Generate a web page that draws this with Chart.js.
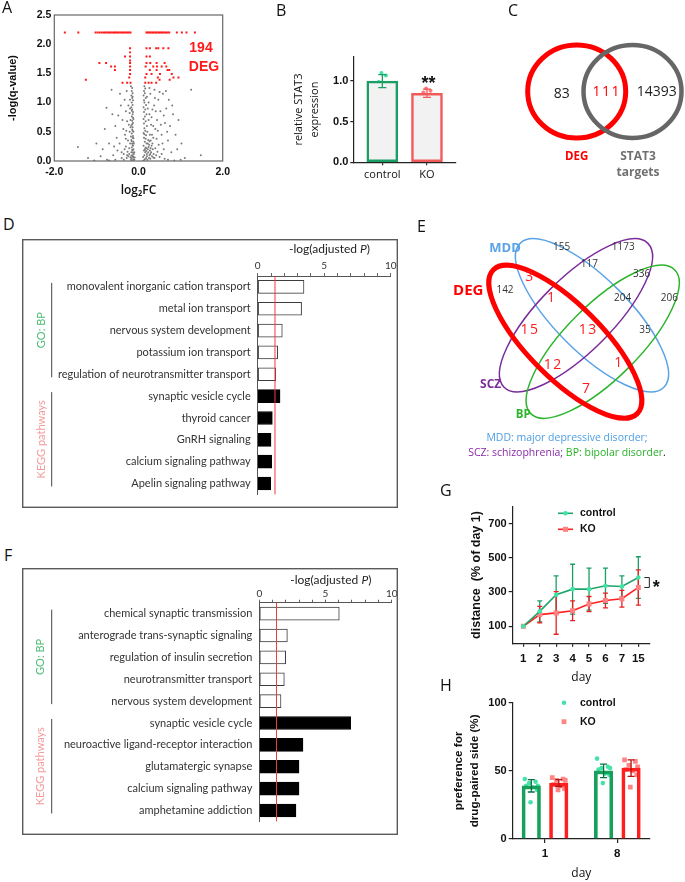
<!DOCTYPE html>
<html lang="en">
<head>
<meta charset="UTF-8">
<meta name="viewport" content="width=device-width, initial-scale=1.0">
<title>STAT3 knockout figure</title>
<script src="https://cdn.jsdelivr.net/npm/chart.js"></script>
<style>
  body { margin: 0; background: #fff; }
  #fig { position: relative; width: 685px; height: 882px; overflow: hidden; font-family: 'Open Sans', sans-serif; color: #111; }
  .box { position: absolute; }
  .p { position: absolute; font-size: 16px; line-height: 16px; }
  .t { position: absolute; white-space: nowrap; line-height: 1; transform: translate(-50%, -50%); }
</style>
</head>
<body>
<div id="fig">
  <div class="box" style="left:0;top:0;width:240px;height:200px"><canvas id="cA"></canvas></div>
  <div class="box" style="left:260px;top:0;width:200px;height:190px"><canvas id="cB"></canvas></div>
  <div class="box" style="left:460px;top:0;width:225px;height:190px"><canvas id="cC"></canvas></div>
  <div class="box" style="left:22px;top:239px;width:376px;height:269px"><canvas id="cD"></canvas></div>
  <div class="box" style="left:420px;top:230px;width:265px;height:240px"><canvas id="cE"></canvas></div>
  <div class="box" style="left:22px;top:568px;width:376px;height:267px"><canvas id="cF"></canvas></div>
  <div class="box" style="left:420px;top:480px;width:265px;height:205px"><canvas id="cG"></canvas></div>
  <div class="box" style="left:420px;top:690px;width:265px;height:192px"><canvas id="cH"></canvas></div>

  <div class="p" style="left:2px;top:-1px">A</div>
  <div class="p" style="left:276px;top:2px">B</div>
  <div class="p" style="left:508px;top:2px">C</div>
  <div class="p" style="left:3px;top:216px">D</div>
  <div class="p" style="left:417px;top:218px">E</div>
  <div class="p" style="left:4px;top:547px">F</div>
  <div class="p" style="left:440px;top:482px">G</div>
  <div class="p" style="left:440px;top:677px">H</div>

  <div id="degA" class="t" style="left:201px;top:47px;font:bold 14px 'Liberation Sans';color:#ff1a1a"></div>
  <div class="t" style="left:204px;top:66px;font:bold 14px 'Liberation Sans';color:#ff1a1a">DEG</div>

  <div class="t" style="left:567px;top:437px;font-size:10.5px;color:#4a9de6">MDD: major depressive disorder;</div>
  <div class="t" style="left:567px;top:452px;font-size:10.5px"><span style="color:#8a2aa8">SCZ: schizophrenia;</span> <span style="color:#27b327">BP: bipolar disorder</span>.</div>
</div>

<script>
// ---------- A: volcano plot ----------
const volcanoGray = [
  [-0.14,0.01],[-0.12,0.03],[-0.16,0.05],[-0.13,0.08],[-0.15,0.1],[-0.11,0.12],[-0.17,0.15],[-0.14,0.18],[-0.12,0.2],[-0.16,0.23],
  [-0.13,0.26],[-0.15,0.3],[-0.12,0.33],[-0.17,0.36],[-0.14,0.4],[-0.13,0.43],[-0.16,0.47],[-0.12,0.5],[-0.15,0.54],[-0.14,0.58],
  [-0.17,0.61],[-0.13,0.65],[-0.15,0.69],[-0.12,0.72],[-0.16,0.76],[-0.14,0.8],[-0.13,0.84],[-0.15,0.88],[-0.17,0.92],[-0.14,0.96],
  [-0.16,1.0],[-0.13,1.04],[-0.15,1.08],[-0.17,1.12],[-0.14,1.16],[-0.16,1.2],[-0.15,1.25],[-0.18,1.28],[-0.2,0.9],[-0.19,0.7],
  [-0.21,0.5],[-0.2,0.3],[-0.22,0.12],[-0.19,0.06],[-0.1,0.02],[-0.09,0.06],[-0.11,0.3],[-0.1,0.15],[-0.18,0.42],[-0.2,1.05],
  [-0.21,0.82],[-0.19,0.58],[-0.22,0.22],[-0.24,0.08],[-0.26,0.16],[-0.25,0.35],[-0.28,0.05],[-0.23,0.62],[-0.24,0.95],[-0.13,0.14],
  [-0.15,0.19],[-0.14,0.27],[-0.16,0.34],[-0.12,0.39],[-0.14,0.52],[-0.15,0.63],[-0.13,0.74],[-0.16,0.86],[-0.14,1.1],[-0.12,0.07],
  [-0.18,0.02],[-0.17,0.09],
  [-0.3,0.25],[-0.35,0.12],[-0.4,0.05],[-0.32,0.45],[-0.38,0.7],[-0.45,0.3],[-0.3,0.85],[-0.42,0.95],[-0.5,0.18],[-0.55,0.6],
  [-0.6,0.1],[-0.48,0.78],[-0.33,1.05],[-0.28,1.2],[-0.36,0.55],[-0.76,0.91],[-0.64,1.22],[-0.8,0.55],[-0.7,0.3],[-0.9,0.08],
  [-1.0,0.3],[-1.2,0.05],[-1.44,0.24],[-0.75,0.02],[-0.52,0.4],[-0.44,1.15],[-0.27,0.68],[-0.58,0.25],[-0.62,0.8],[-0.85,0.2],
  [-0.35,0.02],[-0.3,0.38],[-0.27,0.1],[-0.33,0.2],[-0.4,0.15],[-0.29,0.52],
  [0.12,0.01],[0.15,0.03],[0.18,0.05],[0.11,0.07],[0.14,0.1],[0.2,0.12],[0.16,0.15],[0.13,0.18],[0.22,0.2],[0.17,0.23],
  [0.12,0.26],[0.19,0.3],[0.15,0.33],[0.23,0.36],[0.13,0.4],[0.18,0.44],[0.12,0.48],[0.16,0.52],[0.14,0.56],[0.2,0.6],
  [0.13,0.64],[0.17,0.68],[0.12,0.72],[0.15,0.76],[0.19,0.8],[0.13,0.84],[0.16,0.88],[0.12,0.92],[0.18,0.96],[0.14,1.0],
  [0.13,1.04],[0.17,1.08],[0.12,1.12],[0.15,1.16],[0.13,1.2],[0.16,1.24],[0.14,1.28],[0.2,1.1],[0.22,0.9],[0.24,0.7],
  [0.21,0.5],[0.25,0.28],[0.26,0.1],[0.28,0.04],[0.3,0.15],[0.27,0.45],[0.24,1.0],[0.26,0.8],[0.3,0.62],[0.32,0.08],
  [0.34,0.2],[0.29,0.35],[0.36,0.12],[0.33,0.3],[0.38,0.05],[0.4,0.22],[0.42,0.1],[0.35,0.4],[0.45,0.16],[0.5,0.07],
  [0.48,0.28],[0.55,0.12],[0.6,0.2],[0.62,0.04],[0.23,0.15],[0.21,0.02],[0.25,0.05],[0.29,0.22],[0.32,0.45],[0.18,0.17],
  [0.2,0.08],[0.27,0.18],[0.31,0.26],[0.24,0.24],[0.22,0.3],[0.28,0.12],[0.35,0.06],[0.26,0.34],[0.19,0.22],[0.15,0.2],
  [0.17,0.38],[0.14,0.46],
  [0.31,0.75],[0.28,1.15],[0.37,0.95],[0.4,0.55],[0.44,0.7],[0.47,1.05],[0.52,0.85],[0.55,0.45],[0.58,1.15],[0.63,0.65],
  [0.66,0.9],[0.7,0.35],[0.72,1.05],[0.75,0.6],[0.78,0.15],[0.82,0.8],[0.88,0.45],[0.92,0.2],[0.95,0.7],[1.02,0.3],
  [1.1,0.05],[1.25,1.22],[1.48,0.1],[0.38,1.22],[0.5,1.18],[0.65,1.2],[0.43,0.38],[0.57,0.3],[0.68,0.5],[0.8,0.95],
  [0.35,0.6],[0.26,1.25],[0.41,0.85],[0.46,0.52],[0.53,0.62],[0.6,0.78],[0.39,1.08],[0.33,0.88],
  [-1.05,0.01],[-0.7,0.01],[-0.55,0.02],[0.7,0.02],[0.85,0.01],[1.0,0.02]
];
const volcanoRed = [
  [-1.75,2.2],[-1.43,2.2],[-1.02,2.2],[-0.97,2.2],[-0.92,2.2],[-0.87,2.2],[-0.82,2.2],[-0.78,2.2],[-0.74,2.2],[-0.7,2.2],
  [-0.66,2.2],[-0.62,2.2],[-0.58,2.2],[-0.55,2.2],[-0.51,2.2],[-0.47,2.2],[-0.43,2.2],[-0.39,2.2],[-0.35,2.2],[-0.31,2.2],
  [-0.27,2.2],[-0.23,2.2],[-0.19,2.2],[0.19,2.2],[0.22,2.2],[0.26,2.2],[0.29,2.2],[0.33,2.2],[0.36,2.2],[0.4,2.2],
  [0.43,2.2],[0.47,2.2],[0.5,2.2],[0.54,2.2],[0.57,2.2],[0.61,2.2],[0.65,2.2],[0.69,2.2],[0.73,2.2],[0.91,2.2],
  [1.03,2.2],[1.14,2.2],[1.34,2.2],
  [-0.2,1.93],[0.19,1.93],[0.27,1.93],[0.42,1.93],[0.47,1.93],[0.59,1.93],[0.71,1.93],
  [-0.2,1.86],[-0.32,1.79],[-0.2,1.79],[0.19,1.79],[0.27,1.79],[-0.2,1.72],
  [-0.93,1.68],[-0.77,1.68],[-0.2,1.68],[0.19,1.68],[0.28,1.68],[0.43,1.68],[0.62,1.68],
  [-0.65,1.62],[-0.56,1.62],[-0.2,1.62],[0.17,1.62],[0.35,1.62],[0.44,1.62],[0.55,1.62],[0.66,1.62],
  [-0.56,1.56],[-0.2,1.56],[0.27,1.56],[0.43,1.56],[0.69,1.56],[0.73,1.56],
  [-0.2,1.49],[0.19,1.49],[0.31,1.49],[0.51,1.49],[0.79,1.49],
  [-0.22,1.43],[0.16,1.43],[0.46,1.43],[0.83,1.43],[0.95,1.43],
  [-1.25,1.39],[0.5,1.39],[0.74,1.39],
  [-0.38,1.34],[-0.27,1.34],[-0.19,1.34],[0.16,1.34],[0.24,1.34],[0.31,1.34],[0.42,1.34]
];
const volcanoXTicks = [-2, 0, 2];
const volcanoYTicks = [0, 0.5, 1, 1.5, 2, 2.5];
const degCount = 194;

// ---------- B: STAT3 expression ----------
const stat3Groups = ['control', 'KO'];
const stat3Mean = [1.0, 0.85];
const stat3SD = [0.08, 0.05];
const stat3Control = [1.10, 1.07, 0.99, 0.96, 0.90];
const stat3KO = [0.91, 0.88, 0.86, 0.83, 0.80];
const stat3Ticks = [0, 0.5, 1.0];

// ---------- C: DEG vs STAT3 targets ----------
const vennCSets = ['DEG', 'STAT3', 'targets'];
const vennCCounts = [83, 111, 14393];   // DEG only, shared, targets only

// ---------- D / F: enrichment ----------
const sigThreshold = 1.3;
const dTerms = ['monovalent inorganic cation transport', 'metal ion transport', 'nervous system development',
  'potassium ion transport', 'regulation of neurotransmitter transport', 'synaptic vesicle cycle', 'thyroid cancer',
  'GnRH signaling', 'calcium signaling pathway', 'Apelin signaling pathway'];
const dValues = [3.48, 3.3, 1.85, 1.5, 1.35, 1.68, 1.1, 1.0, 1.05, 0.98];
const dSource = ['GO', 'GO', 'GO', 'GO', 'GO', 'KEGG', 'KEGG', 'KEGG', 'KEGG', 'KEGG'];
const fTerms = ['chemical synaptic transmission', 'anterograde trans-synaptic signaling', 'regulation of insulin secretion',
  'neurotransmitter transport', 'nervous system development', 'synaptic vesicle cycle',
  'neuroactive ligand-receptor interaction', 'glutamatergic synapse', 'calcium signaling pathway', 'amphetamine addiction'];
const fValues = [6.04, 2.12, 1.99, 1.89, 1.64, 6.9, 3.3, 3.0, 3.0, 2.77];
const fSource = ['GO', 'GO', 'GO', 'GO', 'GO', 'KEGG', 'KEGG', 'KEGG', 'KEGG', 'KEGG'];
const sourceNames = { GO: 'GO: BP', KEGG: 'KEGG pathways' };

// ---------- E: four-set overlap ----------
const vennESets = ['MDD', 'SCZ', 'BP', 'DEG'];
const vennERegions = ['M', 'S', 'MS', 'DM', 'D', 'SB', 'DMS', 'MSB', 'B', 'DS', 'DMSB', 'MB', 'DSB', 'DMB', 'DB'];
const vennECounts = [155, 1173, 117, 3, 142, 336, 1, 204, 206, 15, 13, 35, 12, 1, 7];

// ---------- G: locomotion ----------
const gDays = ['1', '2', '3', '4', '5', '6', '7', '15'];
const gControlMean = [100, 187, 284, 317, 317, 337, 333, 385];
const gControlSD = [0, 62, 111, 146, 123, 103, 62, 122];
const gKOMean = [100, 168, 178, 191, 230, 251, 261, 327];
const gKOSD = [0, 48, 125, 58, 44, 43, 49, 103];
const gYTicks = [100, 300, 500, 700];

// ---------- H: place preference ----------
const hDays = ['1', '8'];
const hControlMean = [39, 50];
const hControlSD = [4.5, 5];
const hKOMean = [41, 52];
const hKOSD = [2.5, 6];
const hControlPts = [[44, 42, 41, 39, 39, 38, 36, 27], [59, 53, 52, 52, 51, 48, 47, 41]];
const hKOPts = [[45, 44, 43, 43, 40, 39, 37, 36], [58, 57, 54, 53, 51, 50, 47, 38]];
const hYTicks = [0, 50, 100];

// layout helpers (positions only)
const jitB = [-0.02, 0.08, -0.08, 0.05, -0.01];
const jitH = [-0.09, 0.06, -0.03, 0.09, -0.07, 0.02, 0.08, -0.01];

Chart.defaults.font.family = "'Liberation Sans', Arial, sans-serif";
Chart.defaults.color = '#111';
Chart.defaults.animation = false;
Chart.defaults.maintainAspectRatio = false;
Chart.defaults.plugins.legend.display = false;
Chart.defaults.plugins.tooltip.enabled = false;
Chart.defaults.events = [];

const bold = (size) => ({ size: size, weight: 'bold' });
const ticksOf = (arr) => (s) => { s.ticks = arr.map(v => ({ value: v })); };
// pin an x axis box height and drop the label-overflow padding chart.js adds
const fixX = (h) => (s) => { s.height = h; s.paddingLeft = 0; s.paddingRight = 0; };

const frame = (color, width, useArea) => ({
  id: 'frame',
  afterDraw(chart) {
    const { ctx } = chart;
    const r = useArea ? chart.chartArea : { left: width / 2, top: width / 2, right: chart.width - width / 2, bottom: chart.height - width / 2 };
    ctx.save();
    ctx.strokeStyle = color;
    ctx.lineWidth = width;
    ctx.strokeRect(r.left, r.top, r.right - r.left, r.bottom - r.top);
    ctx.restore();
  }
});

function drawErrors(chart, layer) {
  const { ctx } = chart;
  chart.data.datasets.forEach((ds, i) => {
    if (!ds.sd || (ds.errLayer || 'front') !== layer) return;
    const meta = chart.getDatasetMeta(i);
    const ys = chart.scales[meta.yAxisID];
    ctx.save();
    ctx.lineWidth = ds.errWidth || 1.3;
    meta.data.forEach((el, j) => {
      const sd = ds.sd[j];
      if (!sd) return;
      const v = ds.data[j].y;
      const y1 = ys.getPixelForValue(v + sd), y2 = ys.getPixelForValue(v - sd);
      ctx.strokeStyle = Array.isArray(ds.errColor) ? ds.errColor[j] : ds.errColor;
      ctx.beginPath();
      ctx.moveTo(el.x, y1); ctx.lineTo(el.x, y2);
      ctx.moveTo(el.x - ds.cap, y1); ctx.lineTo(el.x + ds.cap, y1);
      ctx.moveTo(el.x - ds.cap, y2); ctx.lineTo(el.x + ds.cap, y2);
      ctx.stroke();
    });
    ctx.restore();
  });
}
const errorBars = {
  id: 'errorBars',
  beforeDatasetsDraw(chart) { drawErrors(chart, 'back'); },
  afterDatasetsDraw(chart) { drawErrors(chart, 'front'); }
};

function vennPlugin(shapes, texts) {
  return {
    id: 'venn',
    afterDraw(chart) {
      const { ctx, scales: { x, y } } = chart;
      shapes.forEach(s => {
        const cx = x.getPixelForValue(s.cx), cy = y.getPixelForValue(s.cy);
        const rx = Math.abs(x.getPixelForValue(s.cx + s.rx) - cx), ry = Math.abs(y.getPixelForValue(s.cy + s.ry) - cy);
        ctx.save();
        ctx.beginPath();
        ctx.ellipse(cx, cy, rx, ry, s.rot * Math.PI / 180, 0, Math.PI * 2);
        ctx.strokeStyle = s.color;
        ctx.lineWidth = s.width;
        ctx.stroke();
        ctx.restore();
      });
      texts.forEach(t => {
        ctx.save();
        ctx.font = t.font;
        ctx.fillStyle = t.color;
        ctx.letterSpacing = t.ls || '0px';
        ctx.textAlign = 'center';
        ctx.textBaseline = 'middle';
        ctx.fillText(t.text, x.getPixelForValue(t.x), y.getPixelForValue(t.y));
        ctx.restore();
      });
    }
  };
}

// ---------- A ----------
document.getElementById('degA').textContent = degCount;
new Chart(document.getElementById('cA'), {
  type: 'scatter',
  data: {
    datasets: [
      { data: volcanoGray.map(p => ({ x: p[0], y: p[1] })), pointRadius: 1, pointBackgroundColor: '#7a7a7a', pointBorderWidth: 0 },
      { data: volcanoRed.map(p => ({ x: p[0], y: p[1] })), pointStyle: 'rect', pointRadius: 1.4, pointBackgroundColor: '#ff1a1a', pointBorderWidth: 0 }
    ]
  },
  options: {
    layout: { padding: { left: 0, top: 15, right: 17.3, bottom: 0 } },
    scales: {
      x: {
        min: -2, max: 2, afterBuildTicks: ticksOf(volcanoXTicks), afterFit: fixX(39),
        ticks: { callback: v => v.toFixed(1), font: bold(10.5), padding: 5, maxRotation: 0 },
        grid: { display: false, drawTicks: false }, border: { display: false },
        title: { display: true, text: 'log₂FC', font: { family: 'Open Sans', size: 12, weight: '600' }, padding: { top: 0, bottom: 2 } }
      },
      y: {
        min: 0, max: 2.5, afterBuildTicks: ticksOf(volcanoYTicks), afterFit: s => { s.width = 54.3; },
        ticks: { callback: v => v.toFixed(1), font: bold(10.5), padding: 3 },
        grid: { display: false, drawTicks: false }, border: { display: false },
        title: { display: true, text: '-log(q-value)', font: bold(11), padding: { top: 6.4, bottom: 0 } }
      }
    }
  },
  plugins: [frame('#666', 1.2, true)]
});

// ---------- B ----------
new Chart(document.getElementById('cB'), {
  type: 'bar',
  data: {
    datasets: [
      { type: 'bar', data: stat3Mean.map((v, i) => ({ x: i, y: v })), backgroundColor: '#f2f2f2', borderColor: ['#1a9e64', '#f25a5a'],
        borderWidth: 2.5, borderSkipped: false, barThickness: 31, grouped: false, sd: stat3SD, errColor: ['#1a9e64', '#f25a5a'], cap: 4 },
      { type: 'scatter', data: stat3Control.map((v, j) => ({ x: 0 + jitB[j], y: v })), pointRadius: 2, pointBackgroundColor: '#3fe3a4', pointBorderWidth: 0 },
      { type: 'scatter', data: stat3KO.map((v, j) => ({ x: 1 + jitB[j], y: v })), pointRadius: 2, pointBackgroundColor: '#ff7a7a', pointBorderWidth: 0 }
    ]
  },
  options: {
    layout: { padding: { left: 0, top: 56.7, right: 3.3, bottom: 0 } },
    scales: {
      x: {
        type: 'linear', offset: false, min: -0.65, max: 1.65, afterBuildTicks: ticksOf([0, 1]), afterFit: fixX(27.7),
        ticks: { callback: v => stat3Groups[v], font: { family: 'Open Sans', size: 11 }, padding: 3, maxRotation: 0 },
        grid: { drawOnChartArea: false, offset: false, tickLength: 3, color: '#222', lineWidth: 1.2 }, border: { color: '#222', width: 1.2 }
      },
      y: {
        min: 0, max: 1.3, afterBuildTicks: ticksOf(stat3Ticks), afterFit: s => { s.width = 93.3; },
        ticks: { callback: v => v.toFixed(1), font: bold(11), padding: 2 },
        grid: { drawOnChartArea: false, tickLength: 3, color: '#222', lineWidth: 1.2 }, border: { color: '#222', width: 1.2 },
        title: { display: true, text: ['relative STAT3', 'expression'], font: { family: 'Open Sans', size: 11, lineHeight: 1.45 }, padding: { top: 31, bottom: 0 } }
      }
    }
  },
  plugins: [errorBars, {
    id: 'stars',
    afterDraw(chart) {
      const { ctx } = chart;
      ctx.save();
      ctx.font = "bold 18px 'Liberation Sans'";
      ctx.fillStyle = '#111';
      ctx.textAlign = 'center';
      ctx.fillText('**', chart.scales.x.getPixelForValue(1) + 1.5, 88.7);
      ctx.restore();
    }
  }]
});

// ---------- C ----------
new Chart(document.getElementById('cC'), {
  type: 'scatter',
  data: { datasets: [] },
  options: {
    layout: { padding: 0 },
    scales: { x: { display: false, min: 0, max: 225 }, y: { display: false, min: 0, max: 190, reverse: true } }
  },
  plugins: [vennPlugin(
    [
      { cx: 116.7, cy: 91.5, rx: 49, ry: 46.5, rot: 0, color: '#ff0000', width: 5 },
      { cx: 172.5, cy: 91.5, rx: 49, ry: 46.5, rot: 0, color: '#666666', width: 4.5 }
    ],
    [
      { text: String(vennCCounts[0]), x: 101.7, y: 94, font: "14px 'Open Sans'", color: '#222' },
      { text: String(vennCCounts[1]), x: 146.7, y: 92.3, font: "14px 'Open Sans'", color: '#ff0000', ls: '1.5px' },
      { text: String(vennCCounts[2]), x: 196.7, y: 92.3, font: "14px 'Open Sans'", color: '#222' },
      { text: vennCSets[0], x: 116.7, y: 156.7, font: "bold 11.5px 'Open Sans'", color: '#ff0000' },
      { text: vennCSets[1], x: 178, y: 156.7, font: "bold 12px 'Open Sans'", color: '#707070' },
      { text: vennCSets[2], x: 178, y: 172.7, font: "bold 12px 'Open Sans'", color: '#707070' }
    ]
  )]
});

// ---------- D / F ----------
function enrichment(id, terms, values, source, cfg) {
  const decor = {
    id: 'decor',
    afterDraw(chart) {
      const { ctx, chartArea: a, scales: { x, y } } = chart;
      ctx.save();
      // significance threshold
      const tx = x.getPixelForValue(sigThreshold);
      ctx.strokeStyle = '#f23c3c';
      ctx.lineWidth = 1;
      ctx.beginPath(); ctx.moveTo(tx, a.top); ctx.lineTo(tx, a.bottom); ctx.stroke();
      // axis title with italic P
      const fs = 12;
      const p1 = '-log(adjusted ', p2 = 'P', p3 = ')';
      ctx.fillStyle = '#222';
      ctx.textBaseline = 'middle';
      ctx.font = `${fs}px Lato`;
      const w1 = ctx.measureText(p1).width, w3 = ctx.measureText(p3).width;
      ctx.font = `italic ${fs}px Lato`;
      const w2 = ctx.measureText(p2).width;
      const sx = x.getPixelForValue(5.4) - (w1 + w2 + w3) / 2;
      const ty = a.top - cfg.titleDY;
      ctx.font = `${fs}px Lato`; ctx.fillText(p1, sx, ty);
      ctx.font = `italic ${fs}px Lato`; ctx.fillText(p2, sx + w1, ty);
      ctx.font = `${fs}px Lato`; ctx.fillText(p3, sx + w1 + w2, ty);
      // source groups
      Object.keys(sourceNames).forEach(key => {
        const first = source.indexOf(key), last = source.lastIndexOf(key);
        const y1 = y.getPixelForValue(first) - 4, y2 = y.getPixelForValue(last) + 3;
        ctx.strokeStyle = '#444';
        ctx.beginPath(); ctx.moveTo(cfg.lineX, y1); ctx.lineTo(cfg.lineX, y2); ctx.stroke();
        ctx.save();
        ctx.translate(cfg.textX, (y1 + y2) / 2);
        ctx.rotate(-Math.PI / 2);
        ctx.font = '11px Lato';
        ctx.fillStyle = key === 'GO' ? '#4dbd74' : '#f49a9a';
        ctx.textAlign = 'center';
        ctx.fillText(sourceNames[key], 0, 0);
        ctx.restore();
      });
      ctx.restore();
    }
  };
  return new Chart(document.getElementById(id), {
    type: 'bar',
    data: {
      labels: terms,
      datasets: [{
        data: values,
        backgroundColor: source.map(s => s === 'GO' ? '#ffffff' : '#000000'),
        borderColor: source.map(s => s === 'GO' ? '#3c3c3c' : '#000000'),
        borderWidth: 1, borderSkipped: false, barThickness: 13
      }]
    },
    options: {
      indexAxis: 'y',
      layout: { padding: { left: 0, top: 0, right: cfg.padRight, bottom: cfg.padBottom } },
      scales: {
        x: {
          position: 'top', min: 0, max: 10, afterFit: fixX(cfg.top),
          ticks: { stepSize: 1, autoSkip: false, maxRotation: 0, callback: v => (v % 5 === 0 ? String(v) : ''),
            font: { family: 'Lato', size: 10 }, color: '#333', padding: cfg.tickPad },
          grid: { drawOnChartArea: false, tickLength: 3, color: '#666' }, border: { color: '#555' }
        },
        y: {
          afterFit: s => { s.width = cfg.left; },
          ticks: { autoSkip: false, font: { family: 'Lato', size: 11 }, color: '#333', padding: cfg.labelPad },
          grid: { display: false, drawTicks: false }, border: { color: '#555' }
        }
      }
    },
    plugins: [frame('#5a5a5a', 1.4, false), decor]
  });
}
enrichment('cD', dTerms, dValues, dSource, { left: 235.7, top: 37, padRight: 7.3, padBottom: 4, labelPad: 7, tickPad: 1.3, titleDY: 26.7, lineX: 29.7, textX: 19.7 });
enrichment('cF', fTerms, fValues, fSource, { left: 237.3, top: 34.7, padRight: 6.3, padBottom: 4.3, labelPad: 7, tickPad: 0, titleDY: 22.7, lineX: 29.7, textX: 18.5 });

// ---------- E ----------
const vennEPos = [[141.7, 17.3], [203.3, 17.3], [169.3, 34.3], [110, 46.7], [85, 60], [221.7, 44.3], [131.7, 68.3], [202.7, 68.3],
  [249.3, 68.3], [110, 100], [168.3, 100], [225, 100], [133.3, 135], [199, 133.3], [166.7, 159.3]];
const vennETexts = vennECounts.map((c, i) => {
  const inDEG = vennERegions[i].includes('D') && vennERegions[i].length > 1;
  return { text: String(c), x: vennEPos[i][0], y: vennEPos[i][1], color: inDEG ? '#ff1a1a' : '#333',
    font: inDEG ? "14px 'Open Sans'" : "10px 'Open Sans'", ls: inDEG ? '1.5px' : '0px' };
});
vennETexts.push(
  { text: vennESets[0], x: 85, y: 18.3, font: "bold 13px 'Open Sans'", color: '#5aa3e6' },
  { text: vennESets[1], x: 70.7, y: 155, font: "bold 12px 'Open Sans'", color: '#7b2c9b' },
  { text: vennESets[2], x: 103.3, y: 185, font: "bold 11.5px 'Open Sans'", color: '#2cb52c' },
  { text: vennESets[3], x: 48.3, y: 60.7, font: "bold 15px 'Open Sans'", color: '#ff0000' }
);
new Chart(document.getElementById('cE'), {
  type: 'scatter',
  data: { datasets: [] },
  options: {
    layout: { padding: 0 },
    scales: { x: { display: false, min: 0, max: 265 }, y: { display: false, min: 0, max: 240, reverse: true } }
  },
  plugins: [vennPlugin(
    [
      { cx: 172, cy: 85.3, rx: 101.7, ry: 36.7, rot: 45, color: '#5aa3e6', width: 1.5 },
      { cx: 156, cy: 85.3, rx: 101.7, ry: 36.7, rot: -45, color: '#7b2c9b', width: 1.5 },
      { cx: 182.7, cy: 111.7, rx: 101.7, ry: 36.7, rot: -45, color: '#2cb52c', width: 1.5 },
      { cx: 145.3, cy: 111.7, rx: 101.7, ry: 36.7, rot: 45, color: '#ff0000', width: 5 }
    ],
    vennETexts
  )]
});

// ---------- G ----------
new Chart(document.getElementById('cG'), {
  type: 'line',
  data: {
    datasets: [
      { label: 'control', data: gControlMean.map((v, i) => ({ x: i, y: v })), borderColor: '#1fa56b', borderWidth: 1.6,
        pointRadius: 2.3, pointBackgroundColor: '#3fe3a4', pointBorderWidth: 0, sd: gControlSD, errColor: '#1a9e64', errLayer: 'back', cap: 2.5 },
      { label: 'KO', data: gKOMean.map((v, i) => ({ x: i, y: v })), borderColor: '#ff2020', borderWidth: 1.6,
        pointStyle: 'rect', pointRadius: 3.5, pointBackgroundColor: '#ff8080', pointBorderWidth: 0, sd: gKOSD, errColor: '#e82020', errLayer: 'back', cap: 2.5 }
    ]
  },
  options: {
    layout: { padding: { left: 0, top: 26.7, right: 35, bottom: 0 } },
    scales: {
      x: {
        type: 'linear', min: -0.645, max: 7.71, afterBuildTicks: ticksOf(gDays.map((d, i) => i)), afterFit: fixX(41.7),
        ticks: { callback: v => gDays[v], font: bold(11.5), padding: 4.9, maxRotation: 0 },
        grid: { drawOnChartArea: false, tickLength: 3.5, color: '#222', lineWidth: 1.2 }, border: { color: '#222', width: 1.2 },
        title: { display: true, text: 'day', font: { family: 'Open Sans', size: 12 }, padding: { top: 0, bottom: 0 } }
      },
      y: {
        min: 0, max: 800, afterBuildTicks: ticksOf(gYTicks), afterFit: s => { s.width = 92.7; },
        ticks: { font: bold(11), padding: 2 },
        grid: { drawOnChartArea: false, tickLength: 4, color: '#222', lineWidth: 1.2 }, border: { color: '#222', width: 1.2 },
        title: { display: true, text: 'distance  (% of day 1)', font: bold(12.5), padding: { top: 49.2, bottom: 0 } }
      }
    }
  },
  plugins: [errorBars, {
    id: 'legendBracket',
    afterDraw(chart) {
      const { ctx, scales: { x, y } } = chart;
      ctx.save();
      chart.data.datasets.forEach((ds, i) => {
        const ly = 33.3 + i * 16;
        ctx.strokeStyle = ds.borderColor; ctx.lineWidth = 1.6;
        ctx.beginPath(); ctx.moveTo(138, ly); ctx.lineTo(153, ly); ctx.stroke();
        ctx.fillStyle = ds.pointBackgroundColor;
        if (ds.pointStyle === 'rect') ctx.fillRect(145.5 - 2.5, ly - 2.5, 5, 5);
        else { ctx.beginPath(); ctx.arc(145.5, ly, 2.3, 0, Math.PI * 2); ctx.fill(); }
        ctx.fillStyle = '#111'; ctx.font = "bold 10.5px 'Liberation Sans'"; ctx.textBaseline = 'middle';
        ctx.fillText(ds.label, 160, ly);
      });
      const last = gDays.length - 1;
      const bx = x.getPixelForValue(last) + 6;
      const y1 = y.getPixelForValue(gControlMean[last]), y2 = y.getPixelForValue(gKOMean[last]);
      ctx.strokeStyle = '#222'; ctx.lineWidth = 1;
      ctx.beginPath(); ctx.moveTo(bx, y1); ctx.lineTo(bx + 5, y1); ctx.lineTo(bx + 5, y2); ctx.lineTo(bx, y2); ctx.stroke();
      ctx.fillStyle = '#111'; ctx.font = "bold 18px 'Liberation Sans'"; ctx.textAlign = 'center'; ctx.textBaseline = 'alphabetic';
      ctx.fillText('*', bx + 12, (y1 + y2) / 2 + 10.4);
      ctx.restore();
    }
  }]
});

// ---------- H ----------
new Chart(document.getElementById('cH'), {
  type: 'bar',
  data: {
    datasets: [
      { type: 'bar', label: 'control', data: hControlMean.map((v, i) => ({ x: i - 0.19, y: v })), backgroundColor: 'rgba(255,255,255,0)',
        borderColor: '#16a05c', borderWidth: 3, barThickness: 18.5, grouped: false, sd: hControlSD, errColor: '#0f6e40', cap: 3.5 },
      { type: 'bar', label: 'KO', data: hKOMean.map((v, i) => ({ x: i + 0.19, y: v })), backgroundColor: 'rgba(255,255,255,0)',
        borderColor: '#ff1f1f', borderWidth: 3, barThickness: 18.5, grouped: false, sd: hKOSD, errColor: '#b01515', cap: 3.5 },
      { type: 'scatter', label: 'control', data: hControlPts.flatMap((arr, i) => arr.map((v, j) => ({ x: i - 0.19 + jitH[j], y: v }))),
        pointRadius: 2.3, pointBackgroundColor: '#45e3a9', pointBorderWidth: 0 },
      { type: 'scatter', label: 'KO', data: hKOPts.flatMap((arr, i) => arr.map((v, j) => ({ x: i + 0.19 + jitH[j], y: v }))),
        pointStyle: 'rect', pointRadius: 3.3, pointBackgroundColor: '#ff8585', pointBorderWidth: 0 }
    ]
  },
  options: {
    layout: { padding: { left: 0, top: 12.7, right: 35, bottom: 0 } },
    scales: {
      x: {
        type: 'linear', offset: false, min: -0.447, max: 1.452, afterBuildTicks: ticksOf([0, 1]), afterFit: fixX(43),
        ticks: { callback: v => hDays[v], font: bold(11.5), padding: 3.7, maxRotation: 0 },
        grid: { drawOnChartArea: false, offset: false, tickLength: 4, color: '#222', lineWidth: 1.2 }, border: { color: '#222', width: 1.2 },
        title: { display: true, text: 'day', font: { family: 'Open Sans', size: 12 }, padding: { top: 0, bottom: 1.5 } }
      },
      y: {
        min: 0, max: 100, afterBuildTicks: ticksOf(hYTicks), afterFit: s => { s.width = 92.7; },
        ticks: { font: bold(11), padding: 2 },
        grid: { drawOnChartArea: false, tickLength: 4, color: '#222', lineWidth: 1.2 }, border: { color: '#222', width: 1.2 },
        title: { display: true, text: ['preference for', 'drug-paired side (%)'], font: { size: 11.7, weight: 'bold', lineHeight: 1.34 }, padding: { top: 31.4, bottom: 0 } }
      }
    }
  },
  plugins: [errorBars, {
    id: 'legendH',
    afterDraw(chart) {
      const { ctx } = chart;
      ctx.save();
      [2, 3].forEach((di, k) => {
        const ds = chart.data.datasets[di];
        const ly = 12.7 + k * 19;
        ctx.fillStyle = ds.pointBackgroundColor;
        if (ds.pointStyle === 'rect') ctx.fillRect(144 - 2.4, ly - 2.4, 4.8, 4.8);
        else { ctx.beginPath(); ctx.arc(144, ly, 2.3, 0, Math.PI * 2); ctx.fill(); }
        ctx.fillStyle = '#111'; ctx.font = "bold 10.5px 'Liberation Sans'"; ctx.textBaseline = 'middle';
        ctx.fillText(ds.label, 160, ly);
      });
      ctx.restore();
    }
  }]
});
</script>
</body>
</html>
